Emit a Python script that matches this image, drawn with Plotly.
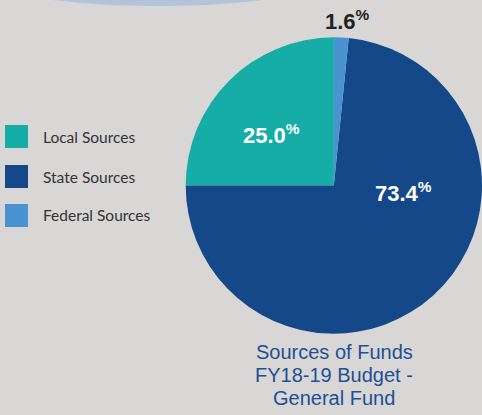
import plotly.graph_objects as go

W, H = 482, 415

categories = ["Local Sources", "State Sources", "Federal Sources"]
values = [25.0, 73.4, 1.6]
colors = ["#15ada5", "#154889", "#4a93d1"]
title_lines = ["Sources of Funds", "FY18-19 Budget -", "General Fund"]

BG = "#d8d7d6"


def px(x, y):
    return x / W, (H - y) / H


fig = go.Figure()
fig.add_trace(go.Pie(
    labels=categories,
    values=values,
    sort=False,
    direction="counterclockwise",
    rotation=-90,
    marker=dict(colors=colors, line=dict(width=0)),
    textinfo="none",
    hoverinfo="label+percent",
    showlegend=False,
    domain=dict(x=[185.7 / W, 1.0], y=[81 / H, 378 / H]),
))

shapes = []
annotations = []

# decorative ellipse at top
x0, y0 = px(-42, 6)
x1, y1 = px(358, -74)
shapes.append(dict(type="circle", xref="paper", yref="paper",
                   x0=x0, x1=x1, y0=y0, y1=y1,
                   fillcolor="#b3c3da", line=dict(width=0), layer="below"))

# custom legend
legend_tops = [125, 165, 204]
for cat, col, top in zip(categories, colors, legend_tops):
    lx0, ly0 = px(5, top + 23)
    lx1, ly1 = px(28, top)
    shapes.append(dict(type="rect", xref="paper", yref="paper",
                       x0=lx0, x1=lx1, y0=ly0, y1=ly1,
                       fillcolor=col, line=dict(width=0)))
    tx, ty = px(41, top + 11.5)
    annotations.append(dict(xref="paper", yref="paper", x=tx, y=ty,
                            xanchor="left", yanchor="middle", showarrow=False,
                            text=cat, font=dict(family="Lato", size=15.5, color="#333333")))

# percentage labels
label_pos = [(271.5, 133.5, "white"), (403.5, 192, "white"), (347.5, 20.5, "#222222")]
for v, (lx, ly, c) in zip(values, label_pos):
    ax, ay = px(lx, ly)
    annotations.append(dict(xref="paper", yref="paper", x=ax, y=ay,
                            xanchor="center", yanchor="middle", showarrow=False,
                            text=f"<b>{v:.1f}</b><sup><b>%</b></sup>",
                            font=dict(family="Liberation Sans", size=22, color=c)))

# title below, one annotation per line for tight leading
for i, line in enumerate(title_lines):
    tx, ty = px(334, 352 + 23 * i)
    annotations.append(dict(xref="paper", yref="paper", x=tx, y=ty,
                            xanchor="center", yanchor="middle", showarrow=False,
                            text=line,
                            font=dict(family="Liberation Sans", size=20, color="#1f4f95")))

fig.update_layout(
    width=W, height=H,
    margin=dict(l=0, r=0, t=0, b=0),
    paper_bgcolor=BG, plot_bgcolor=BG,
    shapes=shapes, annotations=annotations,
)

fig.write_html("out.html", config={"displayModeBar": False},
               post_script="document.body.style.margin='0';document.body.style.overflow='hidden';")
